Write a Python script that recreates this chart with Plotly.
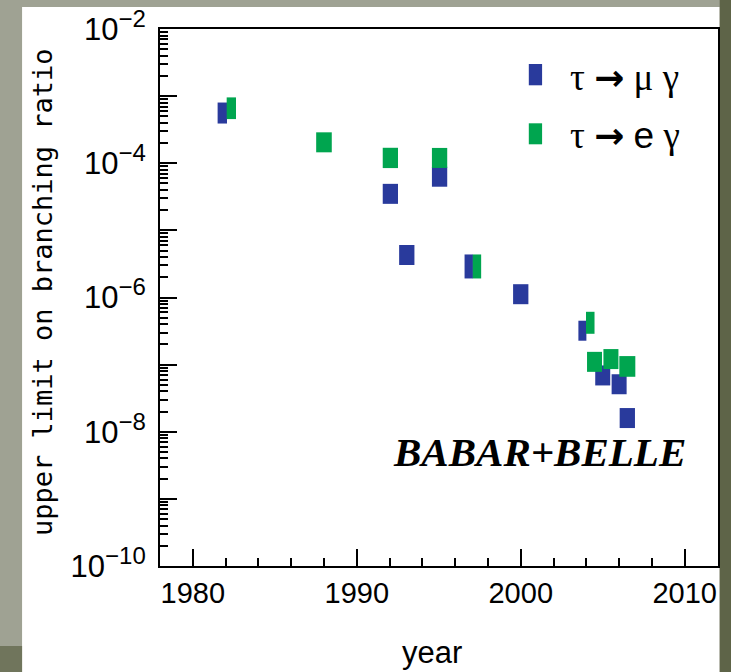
import plotly.graph_objects as go

# Upper limits on lepton-flavour-violating tau decays, by year of publication
mu_gamma_year = [1981.8, 1992.05, 1993.05, 1995.05, 1996.83, 2000.0, 2003.76, 2005.0, 2006.0, 2006.5]
mu_gamma_limit = [5.6e-4, 3.5e-5, 4.3e-6, 6.3e-5, 2.9e-6, 1.12e-6, 3.2e-7, 6.9e-8, 5.1e-8, 1.6e-8]

e_gamma_year = [1982.35, 1988.0, 1992.05, 1995.05, 1997.33, 2004.24, 2004.5, 2005.5, 2006.5]
e_gamma_limit = [6.6e-4, 2.05e-4, 1.2e-4, 1.2e-4, 2.9e-6, 4.2e-7, 1.1e-7, 1.21e-7, 9.4e-8]

x_major = [1980, 1990, 2000, 2010]
y_labelled_exp = [-10, -8, -6, -4, -2]
y_unlabelled_exp = [-9, -7, -5, -3]

# Rectangle sizes in pixels (width, height) for each marker
mu_w = [9.4, 15.3, 15.3, 15.3, 8.4, 15.3, 8.0, 15.0, 15.0, 15.3]
mu_h = [21, 20, 20, 20, 24, 20, 20, 20, 20, 20]
e_w = [9.3, 15.6, 15.3, 15.3, 8.4, 8.5, 15.0, 15.0, 16.0]
e_h = [21.7, 20, 20.3, 20, 24, 22, 20, 20, 20.7]

BLUE = "#293a9c"
GREEN = "#00a54f"

W, H = 731, 672
L, R, T, B = 160, 718.3, 29, 566


def px(xp):
    return (xp - L) / (R - L)


def py(yp):
    return (B - yp) / (B - T)


def rect_trace(xs, ys, ws, hs, color, name):
    # vertical line symbol: height = 1.4*size, thickness = line width
    return go.Scatter(
        x=xs, y=ys, mode="markers", name=name, showlegend=False,
        marker=dict(symbol="line-ns", size=[h / 1.4 for h in hs], opacity=1,
                    color=color, line=dict(color=color, width=ws)),
        hoverinfo="x+y",
    )


def power_label(e):
    return "10<sup><span style='font-size:24px'>−%d</span></sup>" % (-e)


fig = go.Figure()
fig.add_trace(rect_trace(mu_gamma_year, mu_gamma_limit, mu_w, mu_h, BLUE, "τ → μ γ"))
fig.add_trace(rect_trace(e_gamma_year, e_gamma_limit, e_w, e_h, GREEN, "τ → e γ"))
# empty trace so the secondary log axis (long ticks at odd decades) is drawn
fig.add_trace(go.Scatter(x=[], y=[], yaxis="y2", showlegend=False, hoverinfo="skip"))

tick_font = dict(family="Liberation Sans, Arial, sans-serif", size=29, color="black")

fig.update_xaxes(
    range=[1978, 2012.03], showline=True, linewidth=2, linecolor="black", mirror=True,
    ticks="inside", ticklen=17, tickwidth=1.5, tickcolor="black", automargin=False,
    tickmode="array", tickvals=x_major, ticktext=[str(v) for v in x_major],
    tickfont=tick_font, showgrid=False, zeroline=False, ticklabelstandoff=0,
    minor=dict(ticks="inside", ticklen=8, tickwidth=1.5, tickcolor="black",
               tick0=1978, dtick=2, showgrid=False),
)

minor_vals = [k * 10.0 ** e for e in range(-10, -2) for k in range(2, 10)]
fig.update_layout(
    yaxis=dict(
        type="log", range=[-10, -2], showline=True, linewidth=2, linecolor="black", mirror=True,
        ticks="inside", ticklen=17, tickwidth=1.5, tickcolor="black", automargin=False,
        tickmode="array", tickvals=[10.0 ** e for e in y_labelled_exp],
        ticktext=[power_label(e) for e in y_labelled_exp],
        tickfont=dict(family="Liberation Sans, Arial, sans-serif", size=31, color="black"),
        showgrid=False, zeroline=False, ticklabelstandoff=6,
        minor=dict(ticks="inside", ticklen=8, tickwidth=1.5, tickcolor="black",
                   tickmode="array", tickvals=minor_vals, showgrid=False),
    ),
    yaxis2=dict(
        type="log", range=[-10, -2], overlaying="y", side="left", anchor="x",
        showline=False, showgrid=False, zeroline=False, showticklabels=False,
        ticks="inside", ticklen=17, tickwidth=1.5, tickcolor="black", automargin=False,
        tickmode="array", tickvals=[10.0 ** e for e in y_unlabelled_exp],
    ),
)

shapes = [
    # white panel behind the chart
    dict(type="rect", xref="paper", yref="paper", layer="below",
         x0=px(22), x1=px(720), y0=py(H + 5), y1=py(7),
         fillcolor="white", line=dict(width=0)),
    # darker stone strip on the right
    dict(type="rect", xref="paper", yref="paper", layer="below",
         x0=px(720), x1=px(W + 5), y0=py(H + 5), y1=py(-5),
         fillcolor="#5e6448", line=dict(width=0)),
    dict(type="rect", xref="paper", yref="paper", layer="below",
         x0=px(-5), x1=px(22), y0=py(H + 5), y1=py(646),
         fillcolor="#70755c", line=dict(width=0)),
    # legend swatches
    dict(type="rect", xref="paper", yref="paper",
         x0=px(529), x1=px(542.3), y0=py(85.3), y1=py(64),
         fillcolor=BLUE, line=dict(width=0)),
    dict(type="rect", xref="paper", yref="paper",
         x0=px(529), x1=px(542.3), y0=py(144.3), y1=py(123.3),
         fillcolor=GREEN, line=dict(width=0)),
]

legend_font = dict(family="Liberation Serif, Times New Roman, serif", size=37, color="black")
arrow = "<span style='font-family:DejaVu Sans;font-size:36px'><b>→</b></span>"
e_sans = "<span style='font-family:Liberation Sans'>e</span>"
annotations = [
    dict(text="τ " + arrow + " μ γ", x=px(569), y=py(77), xref="paper", yref="paper",
         xanchor="left", yanchor="middle", showarrow=False, font=legend_font, borderpad=0),
    dict(text="τ " + arrow + " " + e_sans + " γ", x=px(569), y=py(135), xref="paper", yref="paper",
         xanchor="left", yanchor="middle", showarrow=False, font=legend_font, borderpad=0),
    dict(text="<b><i>BABAR+BELLE</i></b>", x=px(540), y=py(452), xref="paper", yref="paper",
         xanchor="center", yanchor="middle", showarrow=False,
         font=dict(family="Liberation Serif, Times New Roman, serif", size=41, color="black")),
    dict(text="upper limit on branching ratio", textangle=-90,
         x=px(42), y=py(292), xref="paper", yref="paper",
         xanchor="center", yanchor="middle", showarrow=False,
         font=dict(family="DejaVu Sans Mono, monospace", size=27, color="black")),
    dict(text="year", x=px(432), y=py(652), xref="paper", yref="paper",
         xanchor="center", yanchor="middle", showarrow=False,
         font=dict(family="Liberation Sans, Arial, sans-serif", size=31, color="black")),
]

fig.update_layout(
    width=W, height=H,
    margin=dict(l=L, r=W - R, t=T, b=H - B, pad=0, autoexpand=False),
    paper_bgcolor="#9fa293", plot_bgcolor="white",
    shapes=shapes, annotations=annotations, showlegend=False,
)

fig.write_html("out.html")
